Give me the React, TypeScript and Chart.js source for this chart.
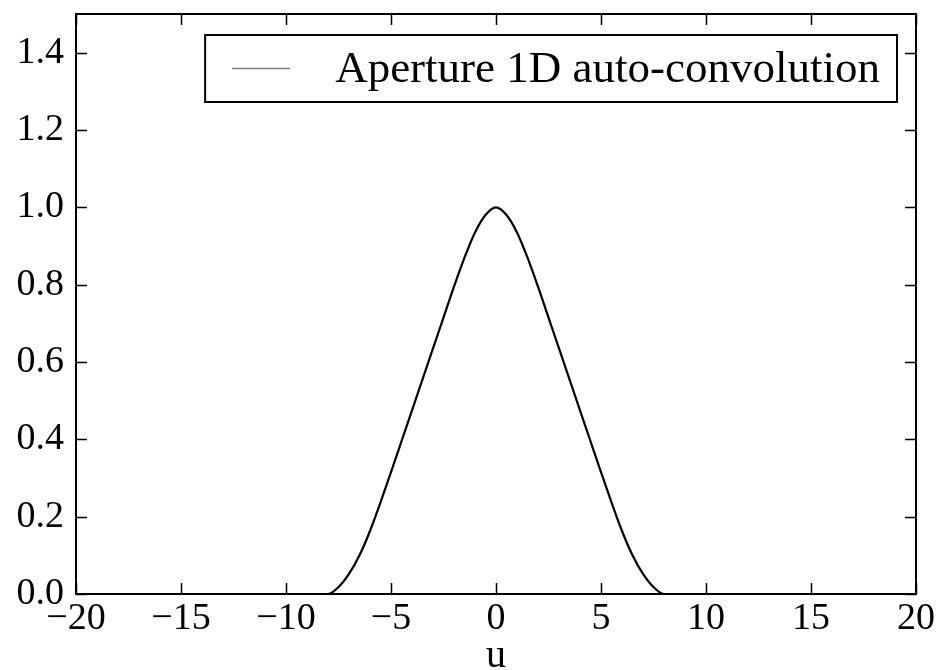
import React, { useEffect, useRef } from "react";
import { Chart, registerables } from "chart.js";

Chart.register(...registerables);

// Data
const seriesLabel = "Aperture 1D auto-convolution";
const xAxisTitle = "u";
const uValues = [
  -20, -8, -7.5, -7, -6.5, -6, -5.5, -5, -4.5, -4, -3.5, -3, -2.5, -2, -1.5, -1, -0.5,
  0, 0.5, 1, 1.5, 2, 2.5, 3, 3.5, 4, 4.5, 5, 5.5, 6, 6.5, 7, 7.5, 8, 20,
];
const convValues = [
  0, 0, 0.018, 0.052, 0.1, 0.163, 0.237, 0.315, 0.395, 0.475, 0.555, 0.635, 0.715, 0.795, 0.87, 0.935, 0.98,
  1.0, 0.98, 0.935, 0.87, 0.795, 0.715, 0.635, 0.555, 0.475, 0.395, 0.315, 0.237, 0.163, 0.1, 0.052, 0.018, 0, 0,
];
const xMin = -20;
const xMax = 20;
const xStep = 5;
const yMin = 0;
const yMax = 1.5;
const yStep = 0.2;

const SERIF = "'Liberation Serif', 'Times New Roman', serif";

const framePlugin = {
  id: "frameTicks",
  afterDatasetsDraw(chart: any) {
    const { ctx, chartArea: ca, scales } = chart;
    const len = 11;
    ctx.save();
    ctx.strokeStyle = "#000";
    ctx.lineWidth = 1.5;
    ctx.beginPath();
    scales.x.ticks.forEach((t: any) => {
      const px = Math.round(scales.x.getPixelForValue(t.value)) + 0.5;
      ctx.moveTo(px, ca.bottom);
      ctx.lineTo(px, ca.bottom - len);
      ctx.moveTo(px, ca.top);
      ctx.lineTo(px, ca.top + len);
    });
    scales.y.ticks.forEach((t: any) => {
      const py = Math.round(scales.y.getPixelForValue(t.value)) + 0.5;
      ctx.moveTo(ca.left, py);
      ctx.lineTo(ca.left + len, py);
      ctx.moveTo(ca.right, py);
      ctx.lineTo(ca.right - len, py);
    });
    ctx.stroke();
    ctx.lineWidth = 2;
    ctx.strokeRect(ca.left, ca.top, ca.right - ca.left, ca.bottom - ca.top);
    ctx.restore();
  },
  afterDraw(chart: any) {
    const { ctx, chartArea: ca } = chart;
    const ds = chart.data.datasets[0];
    ctx.save();
    ctx.font = `45px ${SERIF}`;
    const textW = ctx.measureText(ds.label).width;
    const right = ca.right - 19;
    const top = ca.top + 21;
    const h = 67;
    const left = right - (17 + textW + 45 + 58 + 27);
    ctx.fillStyle = "#fff";
    ctx.fillRect(left, top, right - left, h);
    ctx.strokeStyle = "#000";
    ctx.lineWidth = 2;
    ctx.strokeRect(left, top, right - left, h);
    const cy = top + h / 2;
    ctx.strokeStyle = "#808080";
    ctx.lineWidth = 1.5;
    ctx.beginPath();
    ctx.moveTo(left + 27, cy);
    ctx.lineTo(left + 85, cy);
    ctx.stroke();
    ctx.fillStyle = "#000";
    ctx.textBaseline = "middle";
    ctx.textAlign = "left";
    ctx.fillText(ds.label, left + 130, cy + 2);
    ctx.restore();
  },
};

export default function App() {
  const ref = useRef<HTMLCanvasElement | null>(null);
  useEffect(() => {
    if (!ref.current) return;
    const data = uValues.map((u, i) => ({ x: u, y: convValues[i] }));
    const chart = new Chart(ref.current, {
      type: "line",
      data: {
        datasets: [
          {
            label: seriesLabel,
            data,
            borderColor: "#000",
            borderWidth: 2.2,
            pointRadius: 0,
            fill: false,
            cubicInterpolationMode: "monotone",
          },
        ],
      },
      options: {
        animation: false,
        responsive: false,
        layout: { padding: { left: 0, right: 25, top: 14, bottom: 0 } },
        plugins: { legend: { display: false }, tooltip: { enabled: false } },
        scales: {
          x: {
            type: "linear",
            min: xMin,
            max: xMax,
            grid: { display: false, drawTicks: false },
            border: { display: false },
            ticks: {
              stepSize: xStep,
              padding: 2,
              color: "#000",
              font: { family: SERIF, size: 38 },
              maxRotation: 0,
              callback: (v: any) => (v < 0 ? "\u2212" + Math.abs(v) : String(v)),
            },
            title: {
              display: true,
              text: xAxisTitle,
              color: "#000",
              font: { family: SERIF, size: 40, lineHeight: 1 },
              padding: { top: 0, bottom: -6 },
            },
            afterFit: (s: any) => {
              s.height = 76;
              s.paddingLeft = 0;
              s.paddingRight = 0;
            },
          },
          y: {
            type: "linear",
            min: yMin,
            max: yMax,
            grid: { display: false, drawTicks: false },
            border: { display: false },
            ticks: {
              stepSize: yStep,
              includeBounds: false,
              padding: 12,
              color: "#000",
              font: { family: SERIF, size: 38 },
              callback: (v: any) => Number(v).toFixed(1),
            },
            afterFit: (s: any) => {
              s.width = 76;
              s.paddingTop = 0;
              s.paddingBottom = 0;
            },
          },
        },
      },
      plugins: [framePlugin],
    });
    return () => chart.destroy();
  }, []);
  return (
    <div style={{ position: "absolute", left: 0, top: 0, width: 941, height: 670, background: "#fff" }}>
      <canvas ref={ref} width={941} height={670} />
    </div>
  );
}
